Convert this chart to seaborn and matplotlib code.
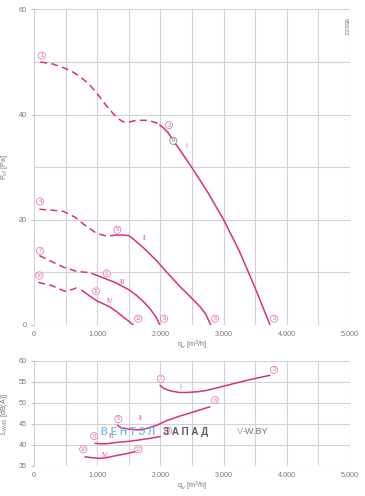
import matplotlib
matplotlib.use('Agg')
import matplotlib.pyplot as plt
from matplotlib.ticker import MultipleLocator, FuncFormatter
import seaborn as sns
import pandas as pd

sns.set_theme(style='white')
plt.rcParams['font.family'] = ['Liberation Sans', 'DejaVu Sans']

# ---------------- data: pressure curves (q_v [m3/h], P_sf [Pa]) ----------------
I_dash_q = [100, 300, 464, 600, 728, 860, 992, 1150, 1308, 1400, 1466, 1624, 1808, 1941, 1990]
I_dash_p = [50.0, 49.6, 48.9, 48.2, 47.2, 45.9, 44.1, 41.6, 39.4, 38.7, 38.5, 38.9, 38.9, 38.4, 38.0]
I_sol_q = [1990, 2046, 2125, 2204, 2300, 2494, 2750, 3000, 3250, 3500, 3734]
I_sol_p = [38.0, 37.5, 36.5, 35.0, 33.4, 30.0, 25.2, 20.0, 14.0, 7.0, 0.0]

II_dash_q = [84, 300, 464, 649, 780, 992, 1150, 1229]
II_dash_p = [22.0, 21.8, 21.6, 20.5, 19.2, 17.4, 16.9, 17.0]
II_sol_q = [1229, 1300, 1400, 1492, 1545, 1729, 1941, 2125, 2310, 2470, 2626, 2720, 2795]
II_sol_p = [17.0, 17.1, 17.1, 17.0, 16.6, 14.7, 12.2, 9.7, 7.3, 5.4, 3.5, 2.0, 0.0]

III_dash_q = [84, 253, 464, 675, 912]
III_dash_p = [13.2, 12.2, 11.0, 10.2, 9.9]
III_sol_q = [912, 1044, 1150, 1260, 1360, 1500, 1624, 1735, 1835, 1930, 1990]
III_sol_p = [9.8, 9.2, 8.7, 8.2, 7.6, 6.7, 5.6, 4.4, 3.1, 1.5, 0.0]

IV_dash_q = [68, 280, 490, 622, 728]
IV_dash_p = [8.1, 7.5, 6.4, 6.8, 7.4]
IV_sol_q = [754, 870, 992, 1100, 1202, 1313, 1413, 1500, 1571]
IV_sol_p = [6.6, 5.6, 4.6, 4.0, 3.4, 2.5, 1.5, 0.7, 0.0]

# ---------------- data: sound power curves (q_v, L_WAS [dB(A)]) ----------------
LI_q = [1994, 2050, 2152, 2300, 2415, 2600, 2732, 3000, 3154, 3400, 3734]
LI_l = [54.2, 53.5, 52.9, 52.5, 52.5, 52.7, 53.0, 54.0, 54.6, 55.5, 56.6]
LII_q = [1318, 1380, 1440, 1550, 1677, 1800, 1941, 2100, 2310, 2550, 2785]
LII_l = [44.7, 44.1, 43.9, 43.7, 43.6, 44.0, 44.7, 45.8, 46.9, 48.0, 49.1]
LIII_q = [965, 1050, 1150, 1300, 1450, 1572, 1800, 1994]
LIII_l = [40.4, 40.3, 40.3, 40.6, 40.8, 41.0, 41.5, 42.0]
LIV_q = [807, 900, 1044, 1150, 1308, 1450, 1598]
LIV_l = [37.2, 37.0, 36.8, 37.0, 37.5, 37.9, 38.4]

# point markers (number, q, value)
top_pts_n = ['1', '2', '3', '4', '5', '6', '7', '8', '9', '10', '11', '12']
top_pts_q = [122, 2136, 3797, 95, 1318, 2864, 95, 1150, 2057, 84, 981, 1650]
top_pts_v = [51.2, 38.0, 1.2, 23.5, 18.1, 1.2, 14.1, 9.8, 1.2, 9.4, 6.4, 1.2]
bot_pts_n = ['2', '3', '5', '6', '8', '9', '10', '12']
bot_pts_q = [2004, 3797, 1334, 2864, 950, 2125, 781, 1651]
bot_pts_v = [55.8, 57.9, 46.2, 50.7, 42.1, 43.4, 39.0, 39.0]

roman = ['I', 'II', 'III', 'IV']
top_rom_q = [2405, 1740, 1397, 1202]
top_rom_v = [34.0, 16.4, 8.1, 4.4]
bot_rom_q = [2310, 1688, 1218, 1123]
bot_rom_v = [53.8, 46.2, 42.0, 37.6]

x_ticks = [0, 1000, 2000, 3000, 4000, 5000]

MAG = '#d8307f'
PINK = '#e26aa5'
GRAY = '#777777'
GRID = '#d2d2d2'

fig = plt.figure(figsize=(3.65, 4.96), dpi=100)
ax1 = fig.add_axes([0.0932, 0.3448, 0.8658, 0.6364])
ax2 = fig.add_axes([0.0932, 0.0605, 0.8658, 0.2117])

DASH = (0, (4.5, 2.8))


def seg(ax, q, v, dashed):
    df = pd.DataFrame({'q': q, 'v': v})
    sns.lineplot(data=df, x='q', y='v', ax=ax, color=MAG, lw=1.1, sort=False,
                 linestyle=DASH if dashed else '-', estimator=None)


seg(ax1, I_dash_q, I_dash_p, True)
seg(ax1, I_sol_q, I_sol_p, False)
seg(ax1, II_dash_q, II_dash_p, True)
seg(ax1, II_sol_q, II_sol_p, False)
seg(ax1, III_dash_q, III_dash_p, True)
seg(ax1, III_sol_q, III_sol_p, False)
seg(ax1, IV_dash_q, IV_dash_p, True)
seg(ax1, IV_sol_q, IV_sol_p, False)

seg(ax2, LI_q, LI_l, False)
seg(ax2, LII_q, LII_l, False)
seg(ax2, LIII_q, LIII_l, False)
seg(ax2, LIV_q, LIV_l, False)


def circ(ax, n, q, v, col=PINK):
    fs = 3.6 if len(n) > 1 else 4.2
    ax.text(q, v, n, fontsize=fs, color=col, ha='center', va='center',
            bbox=dict(boxstyle='circle,pad=0.18', fc='white', ec=col, lw=0.5), zorder=5)


for n, q, v in zip(top_pts_n, top_pts_q, top_pts_v):
    circ(ax1, n, q, v)
circ(ax1, '9', 2204, 35.0, col='#777777')
for n, q, v in zip(bot_pts_n, bot_pts_q, bot_pts_v):
    circ(ax2, n, q, v)
for r, q, v in zip(roman, top_rom_q, top_rom_v):
    ax1.text(q, v, r, fontsize=5, color=PINK, ha='center', va='center')
for r, q, v in zip(roman, bot_rom_q, bot_rom_v):
    ax2.text(q, v, r, fontsize=5, color=PINK, ha='center', va='center')

fmt = FuncFormatter(lambda x, p: '0' if x == 0 else f'{int(x):,}'.replace(',', '.'))

for ax, ylim, ymaj, ymin in [(ax1, (0, 60), 20, 10), (ax2, (35, 60), 5, 5)]:
    ax.set_xlim(0, 5000)
    ax.set_ylim(*ylim)
    ax.set_xticks(x_ticks)
    ax.xaxis.set_minor_locator(MultipleLocator(500))
    ax.yaxis.set_major_locator(MultipleLocator(ymaj))
    ax.yaxis.set_minor_locator(MultipleLocator(ymin))
    ax.xaxis.set_major_formatter(fmt)
    ax.grid(True, which='both', color=GRID, lw=0.8)
    ax.set_axisbelow(True)
    for s in ax.spines.values():
        s.set_visible(False)
    ax.tick_params(axis='x', which='both', length=0, pad=4.5, labelsize=5.2, labelcolor=GRAY)
    ax.tick_params(axis='y', which='major', length=2.5, width=0.6, color='#aaaaaa', pad=2.5,
                   labelsize=5.2, labelcolor=GRAY, left=True)
    ax.tick_params(axis='y', which='minor', length=0)
    ax.set_xlabel('q$_v$ [m$^3$/h]', fontsize=5.2, color=GRAY, va='center')
    ax.xaxis.set_label_coords(0.5, -0.066 if ax is ax1 else -0.195)

ax1.set_ylabel('P$_{sf}$ [Pa]', fontsize=5.2, color=GRAY)
ax2.set_ylabel('L$_{WAS}$ [dB(A)]', fontsize=5.2, color=GRAY)
ax1.yaxis.set_label_coords(-0.075, 0.5)
ax2.yaxis.set_label_coords(-0.075, 0.5)

fig.text(345 / 365, 1 - 27 / 496, '95922', rotation=270, fontsize=4.6, color=GRAY,
         ha='center', va='center')

# watermark
wy = 1 - 432 / 496
fig.text(101 / 365, wy, 'В Е Н Т Э Л', fontsize=7, fontweight='bold', color='#6ab4ea',
         ha='left', va='center', alpha=0.9)
fig.text(163 / 365, wy, 'З А П А Д', fontsize=7, fontweight='bold', color='#4a4a4a',
         ha='left', va='center', alpha=0.9)
fig.text(237 / 365, wy, 'V', fontsize=6.5, color='#6ab4ea', ha='left', va='center')
fig.text(242.5 / 365, wy, '-W.BY', fontsize=6.5, color='#777777', ha='left', va='center')

fig.savefig('out.png', dpi=100)
